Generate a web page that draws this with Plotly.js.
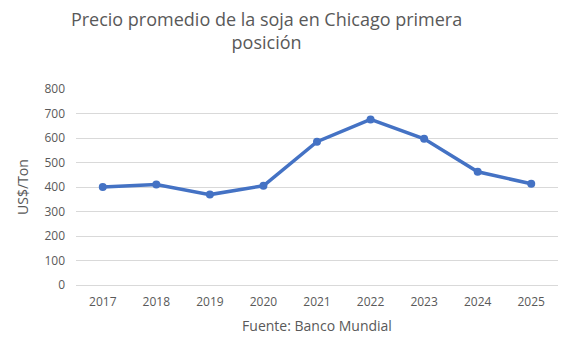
<!DOCTYPE html>
<html><head><meta charset="utf-8">
<script src="https://cdn.plot.ly/plotly-3.0.1.min.js"></script>
<style>html,body{margin:0;padding:0;background:#fff;}#chart{width:582px;height:343px;}</style>
</head><body><div id="chart"></div>
<script>
const years = ['2017','2018','2019','2020','2021','2022','2023','2024','2025'];
const prices = [400, 410, 369, 405, 585, 676, 597, 462, 413];
const yTicks = [0,100,200,300,400,500,600,700,800];

const font = 'Open Sans, Liberation Sans, sans-serif';
Plotly.newPlot('chart', [{
  x: years, y: prices, type: 'scatter', mode: 'lines+markers',
  line: {color: '#4472C4', width: 3.5},
  marker: {color: '#4472C4', size: 8},
  hoverinfo: 'skip'
}], {
  width: 582, height: 343,
  margin: {l: 76, r: 24, t: 89, b: 58},
  paper_bgcolor: '#fff', plot_bgcolor: '#fff',
  showlegend: false,
  title: {text: 'Precio promedio de la soja en Chicago primera<br>posición', x: 0.458, xanchor: 'center', y: 0.925, yanchor: 'middle',
    font: {family: font, size: 18, color: '#595959'}},
  xaxis: {type: 'category', range: [-0.5, 8.5], showgrid: false, showline: false, zeroline: false,
    tickfont: {family: font, size: 12, color: '#595959'}, ticks: '', ticklabelstandoff: 8,
    title: {text: 'Fuente: Banco Mundial', font: {family: font, size: 14, color: '#595959'}, standoff: 12}},
  yaxis: {range: [0, 800], tickvals: yTicks, showgrid: true, gridcolor: '#d9d9d9', gridwidth: 1,
    zeroline: true, zerolinecolor: '#d9d9d9', zerolinewidth: 1, showline: false,
    tickfont: {family: font, size: 12, color: '#595959'}, ticks: '', ticklabelstandoff: 10,
    title: {text: 'US$/Ton', font: {family: font, size: 14, color: '#595959'}, standoff: 12}}
}, {displayModeBar: false, staticPlot: true});
</script></body></html>
